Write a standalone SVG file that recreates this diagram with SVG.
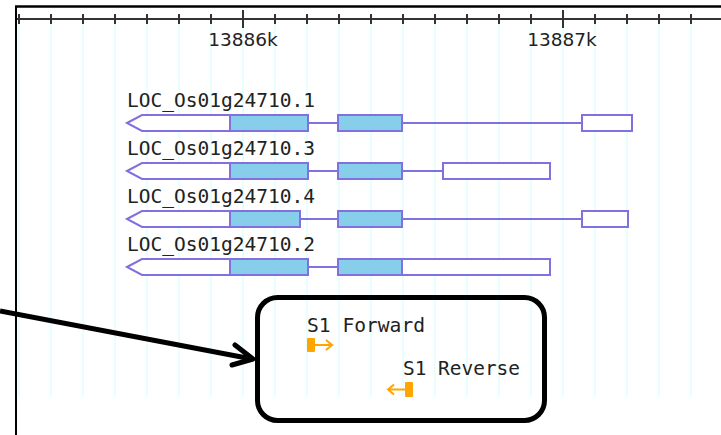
<svg xmlns="http://www.w3.org/2000/svg" width="721" height="435" viewBox="0 0 721 435">
<style>
.grid{stroke:#e0ffff;stroke-width:1.5}
.tick{stroke:#333;stroke-width:2}
.rl{font-family:"DejaVu Sans",sans-serif;font-size:18.5px;fill:#222;text-anchor:middle}
.lbl{font-family:"DejaVu Sans Mono","Liberation Mono",monospace;font-size:19px;fill:#222}
.cds{fill:#87ceeb;stroke:#8070e0;stroke-width:2}
.utr{fill:#fff;stroke:#8070e0;stroke-width:2}
.intr{stroke:#8070e0;stroke-width:2}
.pr{fill:#ffa500}
.prl{stroke:#ffa500;stroke-width:2;fill:none}
</style>
<rect width="721" height="435" fill="#fff"/>
<g id="grid">
<path class="grid" d="M19 20V397M51 20V397M83 20V397M115 20V397M147 20V397M179 20V397M211 20V397M243 20V397M275 20V397M307 20V397M339 20V397M371 20V397M403 20V397M435 20V397M467 20V397M499 20V397M531 20V397M563 20V397M595 20V397M627 20V397M659 20V397M691 20V397"/>
</g>
<g id="frame">
<path d="M15 6.5H721" stroke="#000" stroke-width="2.5"/>
<path d="M16 6V435" stroke="#000" stroke-width="2"/>
</g>
<g id="ruler">
<path class="tick" d="M17 19H721"/>
<path class="tick" d="M19 14V24M51 14V24M83 14V24M115 14V24M147 14V24M179 14V24M211 14V24M275 14V24M307 14V24M339 14V24M371 14V24M403 14V24M435 14V24M467 14V24M499 14V24M531 14V24M595 14V24M627 14V24M659 14V24M691 14V24"/>
<path class="tick" d="M243 10V28M563 10V28"/>
<text class="rl" x="243" y="46">13886k</text>
<text class="rl" x="562" y="46">13887k</text>
</g>
<g id="tx1">
<text class="lbl" x="127" y="107" textLength="188" lengthAdjust="spacingAndGlyphs">LOC_Os01g24710.1</text>
<path class="intr" d="M308 123H338M402 123H582"/>
<polygon class="utr" points="127,123 142,115 230,115 230,131 142,131"/>
<rect class="cds" x="230" y="115" width="78" height="16"/>
<rect class="cds" x="338" y="115" width="64" height="16"/>
<rect class="utr" x="582" y="115" width="50" height="16"/>
</g>
<g id="tx3">
<text class="lbl" x="127" y="155" textLength="188" lengthAdjust="spacingAndGlyphs">LOC_Os01g24710.3</text>
<path class="intr" d="M308 171H338M402 171H443"/>
<polygon class="utr" points="127,171 142,163 230,163 230,179 142,179"/>
<rect class="cds" x="230" y="163" width="78" height="16"/>
<rect class="cds" x="338" y="163" width="64" height="16"/>
<rect class="utr" x="443" y="163" width="107" height="16"/>
</g>
<g id="tx4">
<text class="lbl" x="127" y="203" textLength="188" lengthAdjust="spacingAndGlyphs">LOC_Os01g24710.4</text>
<path class="intr" d="M300 219H338M402 219H582"/>
<polygon class="utr" points="127,219 142,211 230,211 230,227 142,227"/>
<rect class="cds" x="230" y="211" width="70" height="16"/>
<rect class="cds" x="338" y="211" width="64" height="16"/>
<rect class="utr" x="582" y="211" width="46" height="16"/>
</g>
<g id="tx2">
<text class="lbl" x="127" y="251" textLength="188" lengthAdjust="spacingAndGlyphs">LOC_Os01g24710.2</text>
<path class="intr" d="M308 267H338"/>
<polygon class="utr" points="127,267 142,259 230,259 230,275 142,275"/>
<rect class="cds" x="230" y="259" width="78" height="16"/>
<rect class="utr" x="402" y="259" width="148" height="16"/>
<rect class="cds" x="338" y="259" width="64" height="16"/>
</g>
<g id="primers">
<text class="lbl" x="307" y="332" textLength="118" lengthAdjust="spacingAndGlyphs">S1 Forward</text>
<rect class="pr" x="307" y="338" width="8" height="14" rx="1"/>
<path class="prl" d="M315 345H332M326 340L332 345L326 350"/>
<text class="lbl" x="403" y="375" textLength="117" lengthAdjust="spacingAndGlyphs">S1 Reverse</text>
<rect class="pr" x="405" y="382" width="8" height="15" rx="1"/>
<path class="prl" d="M405 389.5H388M394 384.5L388 389.5L394 394.5"/>
</g>
<g id="highlight">
<rect x="257.5" y="297.5" width="287" height="123" rx="20" fill="none" stroke="#000" stroke-width="5"/>
</g>
<g id="connectors">
<path d="M0 311L252 359" stroke="#000" stroke-width="5" fill="none"/>
<path d="M235 345L253 359L232 365" stroke="#000" stroke-width="5" fill="none" stroke-linecap="round" stroke-linejoin="round"/>
</g>
</svg>
